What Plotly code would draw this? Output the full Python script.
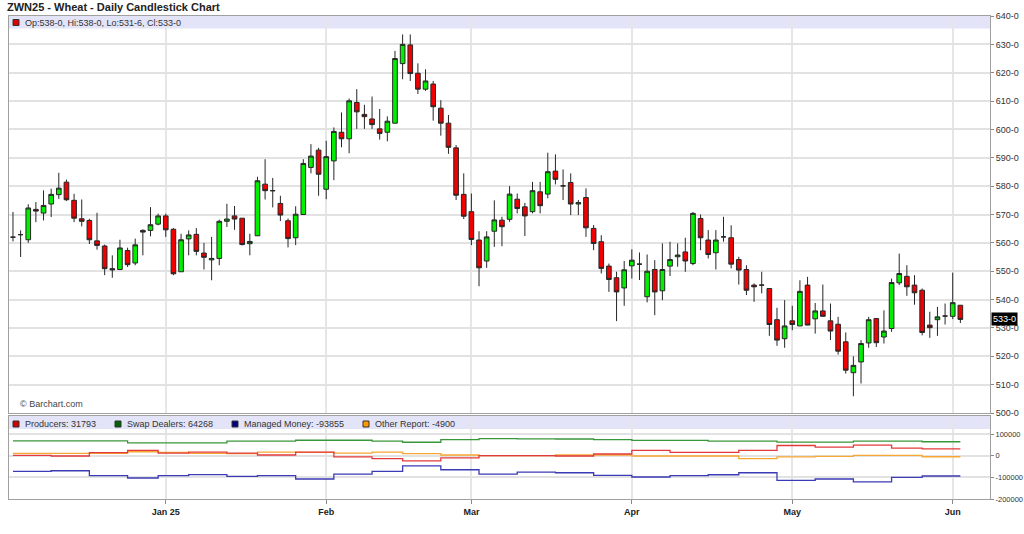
import pandas as pd
import plotly.graph_objects as go
from plotly.subplots import make_subplots

# ---------------- data ----------------
holidays = ["2024-12-25", "2025-01-01", "2025-01-20", "2025-02-17", "2025-04-18", "2025-05-26"]
dates = [d.strftime("%Y-%m-%d") for d in pd.bdate_range("2024-12-03", "2025-06-03")
         if d.strftime("%Y-%m-%d") not in holidays]

open_ = [562.0, 562.9, 561.1, 571.8, 570.5, 573.7, 577.0, 581.4, 575.0, 568.5,
         567.9, 560.7, 558.9, 550.9, 550.6, 557.3, 552.9, 564.4, 564.4, 566.6,
         569.5, 564.8, 549.8, 561.4, 563.0, 556.4, 554.0, 554.5, 567.6, 569.5,
         568.7, 559.7, 562.5, 580.7, 578.4, 573.9, 567.8, 561.8, 570.0, 586.6,
         592.7, 578.9, 588.9, 599.0, 596.7, 609.5, 605.3, 603.7, 600.2, 599.0,
         602.2, 623.2, 629.8, 619.8, 614.2, 616.0, 607.5, 602.2, 593.5, 577.1,
         571.0, 561.0, 553.6, 564.1, 568.0, 568.3, 575.4, 572.7, 571.0, 578.0,
         577.2, 585.3, 580.1, 581.3, 573.7, 576.0, 565.1, 560.4, 551.8, 547.7,
         544.1, 551.9, 552.5, 541.0, 550.6, 543.1, 551.8, 555.1, 556.8, 552.7,
         568.6, 561.0, 556.5, 562.1, 561.8, 554.1, 550.6, 545.1, 545.1, 543.9,
         532.9, 526.2, 532.5, 530.7, 545.1, 533.2, 536.0, 532.5, 531.3, 525.1,
         514.2, 518.0, 524.7, 533.3, 526.8, 529.8, 545.9, 548.2, 545.1, 543.3,
         531.0, 532.9, 534.2, 534.1, 538.0]
high = [570.9, 564.4, 573.6, 574.4, 578.5, 579.1, 584.7, 582.3, 577.3, 575.3,
        568.5, 570.6, 559.4, 555.6, 561.1, 558.3, 561.5, 564.8, 572.6, 570.3,
        570.3, 565.2, 563.2, 564.4, 565.2, 560.0, 562.1, 568.2, 573.8, 573.0,
        568.7, 563.2, 583.3, 589.5, 582.9, 576.6, 568.6, 572.9, 589.5, 594.8,
        593.5, 596.0, 600.7, 606.0, 610.9, 614.2, 608.7, 611.6, 607.2, 604.6,
        627.7, 633.5, 633.5, 623.3, 621.2, 617.1, 610.3, 605.1, 594.5, 584.5,
        577.4, 564.1, 564.1, 575.0, 569.2, 580.0, 577.4, 574.1, 581.5, 581.5,
        591.8, 591.2, 585.9, 584.5, 575.1, 579.2, 566.3, 562.7, 552.7, 549.8,
        553.6, 557.7, 556.6, 555.9, 553.9, 559.8, 560.4, 559.8, 561.8, 570.9,
        570.0, 564.5, 564.5, 569.2, 566.2, 555.1, 552.1, 545.7, 549.8, 543.9,
        537.1, 539.8, 537.8, 546.8, 548.0, 538.8, 545.3, 538.6, 533.9, 528.4,
        520.0, 525.7, 533.9, 533.5, 536.2, 547.4, 556.2, 552.1, 548.6, 543.9,
        535.7, 537.4, 538.6, 549.5, 538.0]
low = [560.5, 555.0, 560.0, 567.3, 567.9, 569.1, 575.5, 574.8, 567.3, 565.8,
       559.6, 557.6, 548.6, 547.7, 550.4, 551.5, 552.1, 555.6, 562.3, 566.2,
       562.1, 548.6, 549.8, 555.6, 555.6, 550.6, 546.8, 552.1, 565.6, 564.6,
       559.1, 555.6, 562.5, 575.3, 572.5, 567.7, 558.4, 559.2, 570.0, 584.5,
       576.6, 575.4, 582.1, 593.7, 591.6, 600.2, 600.2, 600.2, 596.4, 595.8,
       602.2, 617.7, 617.1, 612.5, 613.6, 603.1, 597.8, 591.4, 575.1, 568.4,
       559.2, 544.7, 551.2, 558.6, 558.8, 567.4, 570.4, 562.4, 570.4, 570.4,
       575.7, 580.6, 575.1, 569.8, 569.8, 562.1, 557.4, 549.2, 542.7, 532.4,
       537.8, 547.4, 546.9, 539.0, 534.5, 539.8, 548.3, 551.6, 549.8, 552.1,
       557.4, 554.5, 550.6, 560.4, 551.0, 545.3, 541.6, 539.2, 542.2, 527.2,
       523.7, 523.0, 529.2, 530.7, 531.0, 528.0, 534.1, 525.7, 520.6, 513.9,
       505.9, 510.4, 523.0, 523.3, 524.5, 528.6, 545.1, 541.3, 538.2, 527.4,
       526.5, 527.2, 531.2, 533.1, 531.75]
close = [562.0, 562.9, 572.3, 571.2, 573.2, 577.1, 579.3, 575.2, 568.7, 567.6,
         561.1, 559.1, 550.9, 550.5, 558.2, 552.3, 559.3, 563.8, 566.4, 569.5,
         564.6, 549.1, 561.1, 562.8, 557.0, 554.9, 554.5, 567.6, 568.4, 568.4,
         559.4, 560.5, 581.9, 578.4, 578.4, 569.8, 561.5, 570.1, 588.0, 590.6,
         584.2, 590.4, 599.3, 596.7, 610.1, 606.2, 604.5, 601.7, 598.6, 602.9,
         625.0, 630.0, 619.7, 614.2, 617.1, 608.0, 602.2, 593.7, 576.8, 569.4,
         561.2, 551.2, 562.1, 568.1, 565.7, 577.2, 572.1, 569.5, 578.4, 573.1,
         585.1, 582.4, 580.1, 573.7, 574.2, 565.3, 559.8, 551.0, 547.1, 542.7,
         550.5, 553.9, 552.5, 550.0, 542.7, 550.6, 554.1, 555.7, 553.6, 570.4,
         561.8, 555.9, 561.0, 562.1, 552.5, 550.4, 543.3, 544.5, 545.1, 531.2,
         525.7, 530.7, 531.2, 542.9, 531.0, 536.0, 534.1, 528.9, 521.8, 515.1,
         516.8, 524.5, 532.9, 524.8, 528.9, 546.0, 549.2, 544.5, 542.4, 528.4,
         530.1, 533.9, 534.2, 538.9, 533.0]

# weekly Commitment of Traders positions (as-of Tuesdays, last value carried to last bar)
cot_dates = ["2024-12-03", "2024-12-10", "2024-12-17", "2024-12-24", "2024-12-31",
             "2025-01-07", "2025-01-14", "2025-01-21", "2025-01-28", "2025-02-04",
             "2025-02-11", "2025-02-18", "2025-02-25", "2025-03-04", "2025-03-11",
             "2025-03-18", "2025-03-25", "2025-04-01", "2025-04-08", "2025-04-15",
             "2025-04-22", "2025-04-29", "2025-05-06", "2025-05-13", "2025-05-20",
             "2025-05-27", "2025-06-03"]
producers = [1500, -1500, 13600, 24000, 12000, 16700, 12000, 3000, 16700, -6000,
             -13600, -24000, -10600, 0, 0, -1500, 7600, 24000, 15000, 15000,
             24000, 47000, 39000, 48500, 35000, 31793, 31793]
swap_dealers = [68000, 68000, 68000, 59000, 59000, 59000, 66700, 66700, 71200, 71200,
                66700, 62000, 74000, 78800, 77500, 77000, 74000, 71000, 71000, 67000,
                67000, 62500, 62500, 67000, 67000, 64268, 64268]
managed_money = [-72700, -69700, -92400, -103000, -92400, -87900, -95500, -92400, -107600, -84800,
                 -72700, -47000, -65000, -84800, -75800, -78800, -91000, -98500, -92400, -88000,
                 -78800, -113600, -107600, -121000, -100000, -93855, -93855]
other_report = [10600, 10600, 10600, 18000, 15000, 10600, 9000, 16700, 15000, 12000,
                16700, 9000, 3000, 0, 0, 3000, 3000, -1500, -1500, -1500,
                -13600, -6000, -3000, 1500, 1500, -4900, -4900]

month_ticks = ["2025-01-02", "2025-02-03", "2025-03-03", "2025-04-01", "2025-05-01", "2025-06-02"]
month_labels = ["Jan 25", "Feb", "Mar", "Apr", "May", "Jun"]
price_ticks = list(range(500, 641, 10))
cot_ticks = [100000, 0, -100000, -200000]

assert len(dates) == len(open_) == len(high) == len(low) == len(close)

# ---------------- figure ----------------
FONT = "Arial, Liberation Sans, sans-serif"
W, H = 1024, 534
ML, MR, MT, MB = 9, 34, 16, 35
PW, PH = W - ML - MR, H - MT - MB


def px_x(px):
    return (px - ML) / PW


def px_y(py):
    return (H - MB - py) / PH


fig = make_subplots(rows=2, cols=1, shared_xaxes=True)

fig.add_trace(go.Candlestick(
    x=dates, open=open_, high=high, low=low, close=close,
    increasing=dict(fillcolor="#00f000", line=dict(color="#262626", width=1)),
    decreasing=dict(fillcolor="#f00000", line=dict(color="#262626", width=1)),
    showlegend=False, hoverinfo="skip"), row=1, col=1)

cot_series = [
    ("Other Report", other_report, "#f7a733"),
    ("Swap Dealers", swap_dealers, "#3a963a"),
    ("Producers", producers, "#e23b3b"),
    ("Managed Money", managed_money, "#3b3bb5"),
]
for name, vals, col in cot_series:
    fig.add_trace(go.Scatter(x=cot_dates, y=vals, mode="lines", name=name,
                             line=dict(color=col, width=1.3, shape="hv"),
                             showlegend=False, hoverinfo="skip"), row=2, col=1)

xcommon = dict(type="category", categoryorder="array", categoryarray=dates,
               range=[-0.52, 127.88], tickvals=month_ticks,
               ticktext=["<b>%s</b>" % t for t in month_labels],
               showgrid=True, gridcolor="#e6e6e6", gridwidth=2,
               showline=True, linecolor="#a0a0a0", linewidth=1, mirror=True,
               zeroline=False, automargin=False)

ycommon = dict(side="right", ticks="outside", ticklen=3, tickcolor="#888888",
               showgrid=True, gridcolor="#e2e2e2", gridwidth=1.5,
               showline=True, linecolor="#a0a0a0", mirror=True, zeroline=False,
               automargin=False)

fig.update_layout(
    width=W, height=H,
    margin=dict(l=ML, r=MR, t=MT, b=MB, autoexpand=False),
    paper_bgcolor="white", plot_bgcolor="white",
    font=dict(family=FONT, size=9, color="#333333"),
    boxgap=0.13,
    xaxis=dict(xcommon, showticklabels=False, ticks="", rangeslider=dict(visible=False)),
    xaxis2=dict(xcommon, showticklabels=True, ticks="outside", ticklen=4, tickcolor="#888888",
                tickfont=dict(family=FONT, size=9, color="#222222")),
    yaxis=dict(ycommon, domain=[px_y(413), 1], range=[500, 640],
               tickvals=price_ticks, ticktext=["%d-0" % v for v in price_ticks],
               tickfont=dict(family=FONT, size=9, color="#333333")),
    yaxis2=dict(ycommon, domain=[0, px_y(416)], range=[-200000, 183077],
                tickvals=cot_ticks, ticktext=[str(v) for v in cot_ticks],
                tickfont=dict(family=FONT, size=7.5, color="#333333")),
)

shapes = [
    # header bands
    dict(type="rect", xref="x domain", yref="y domain", x0=0, x1=1,
         y0=1 - 12.5 / 397, y1=1, fillcolor="#e4e4f8", line=dict(width=0), layer="below"),
    dict(type="rect", xref="x2 domain", yref="y2 domain", x0=0, x1=1,
         y0=1 - 13 / 83, y1=1, fillcolor="#e4e4f8", line=dict(width=0), layer="below"),
]
annotations = [
    dict(text="<b>ZWN25 - Wheat - Daily Candlestick Chart</b>", x=px_x(5), y=px_y(7),
         xref="paper", yref="paper", xanchor="left", yanchor="middle", showarrow=False,
         font=dict(family=FONT, size=11, color="#222222")),
    dict(text="© Barchart.com", x=px_x(18), y=px_y(404), xref="paper", yref="paper",
         xanchor="left", yanchor="middle", showarrow=False,
         font=dict(family=FONT, size=9, color="#444444")),
    dict(text="533-0", x=1, y=close[-1], xref="paper", yref="y", xanchor="left",
         yanchor="middle", showarrow=False, bgcolor="#000000", borderpad=1,
         xshift=1, font=dict(family=FONT, size=9, color="#ffffff")),
]


def legend_item(px_left, py_center, color, text):
    shapes.append(dict(type="rect", xref="paper", yref="paper",
                       x0=px_x(px_left), x1=px_x(px_left + 6),
                       y0=px_y(py_center + 3), y1=px_y(py_center - 3),
                       fillcolor=color, line=dict(color="#333333", width=1)))
    annotations.append(dict(text=text, x=px_x(px_left + 10), y=px_y(py_center),
                            xref="paper", yref="paper", xanchor="left", yanchor="middle",
                            showarrow=False, font=dict(family=FONT, size=9, color="#333333")))


legend_item(13, 22.5, "#dd0000", "Op:538-0, Hi:538-0, Lo:531-6, Cl:533-0")
legend_item(13, 424, "#cc0000", "Producers: %d" % producers[-1])
legend_item(115, 424, "#006400", "Swap Dealers: %d" % swap_dealers[-1])
legend_item(232, 424, "#000080", "Managed Money: %d" % managed_money[-1])
legend_item(363, 424, "#ff9900", "Other Report: %d" % other_report[-1])

fig.update_layout(shapes=shapes, annotations=annotations)

# page body margin removed so the 1024x534 figure fills the window exactly
fig.write_html("out.html", config={"displayModeBar": False},
               post_script="document.body.style.margin='0px';")
